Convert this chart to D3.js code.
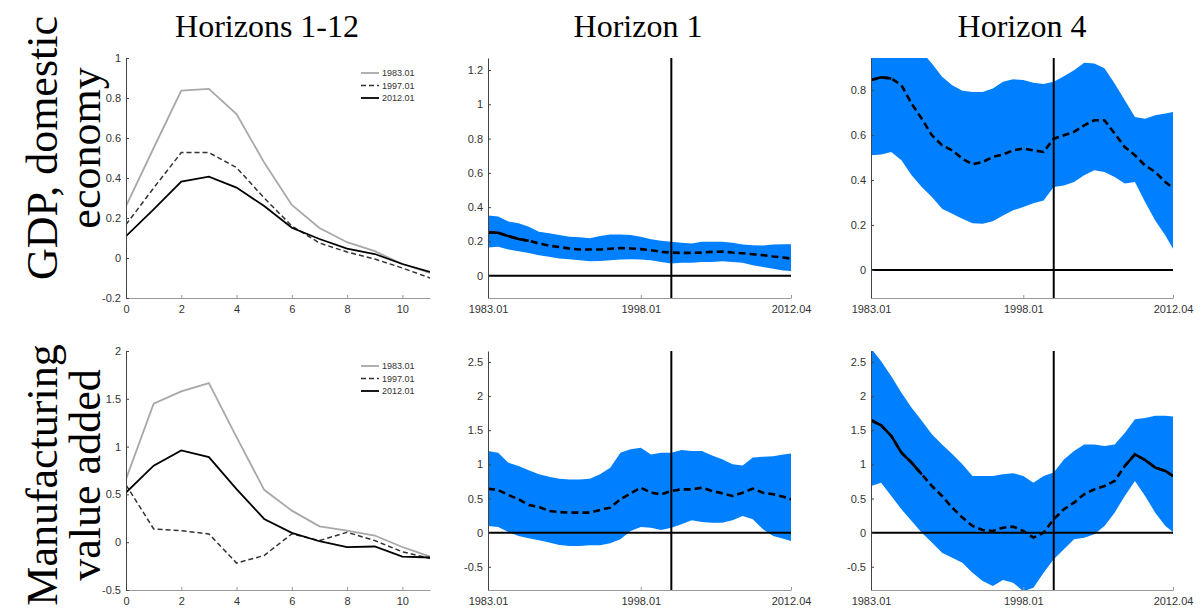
<!DOCTYPE html>
<html>
<head>
<meta charset="utf-8">
<script src="https://cdn.jsdelivr.net/npm/d3@7"></script>
<style>
  body { margin: 0; background: #fff; }
  svg { display: block; }
  .tick text { font-family: "Liberation Sans", Arial, sans-serif; font-size: 11px; fill: #333; }
</style>
</head>
<body>
<svg id="chart"></svg>
<script>
var width = 1203, height = 612

// ---- data ----
var horizons = d3.range(12)
var legendLabels = ["1983.01", "1997.01", "2012.01"]

var gdpIrf1983 = [0.26, 0.55, 0.837, 0.846, 0.72, 0.477, 0.265, 0.15, 0.079, 0.034, -0.03, -0.075]
var gdpIrf1997 = [0.167, 0.35, 0.527, 0.527, 0.452, 0.30, 0.16, 0.075, 0.03, -0.005, -0.05, -0.10]
var gdpIrf2012 = [0.109, 0.243, 0.382, 0.407, 0.352, 0.26, 0.151, 0.095, 0.047, 0.02, -0.03, -0.07]

var mfgIrf1983 = [0.66, 1.449, 1.577, 1.664, 1.10, 0.548, 0.33, 0.166, 0.12, 0.07, -0.05, -0.15]
var mfgIrf1997 = [0.60, 0.139, 0.12, 0.087, -0.218, -0.139, 0.087, 0.017, 0.104, 0.017, -0.10, -0.17]
var mfgIrf2012 = [0.52, 0.80, 0.96, 0.89, 0.555, 0.243, 0.097, 0.01, -0.052, -0.045, -0.15, -0.16]

var dates = ["1983.01", "1984.01", "1985.01", "1986.01", "1987.01", "1988.01", "1989.01", "1990.01",
  "1991.01", "1992.01", "1993.01", "1994.01", "1995.01", "1996.01", "1997.01", "1998.01", "1999.01",
  "2000.01", "2001.01", "2002.01", "2003.01", "2004.01", "2005.01", "2006.01", "2007.01", "2008.01",
  "2009.01", "2010.01", "2011.01", "2012.01", "2012.04"]
var dateTicks = ["1983.01", "1998.01", "2012.04"]
var breakDate = "2001.01"

var gdpH1Upper = [0.351, 0.345, 0.316, 0.306, 0.286, 0.257, 0.247, 0.237, 0.227, 0.224, 0.218, 0.231, 0.241,
  0.241, 0.237, 0.227, 0.212, 0.204, 0.198, 0.192, 0.188, 0.198, 0.198, 0.198, 0.192, 0.182, 0.178, 0.176,
  0.182, 0.184, 0.184]
var gdpH1Lower = [0.165, 0.169, 0.153, 0.143, 0.133, 0.12, 0.11, 0.10, 0.096, 0.09, 0.084, 0.086, 0.09,
  0.094, 0.096, 0.094, 0.09, 0.08, 0.071, 0.075, 0.076, 0.08, 0.08, 0.084, 0.08, 0.076, 0.061, 0.051,
  0.041, 0.031, 0.027]
var gdpH1Median = [0.253, 0.251, 0.231, 0.214, 0.204, 0.188, 0.175, 0.167, 0.159, 0.153, 0.153, 0.153, 0.157,
  0.161, 0.159, 0.155, 0.149, 0.139, 0.135, 0.133, 0.133, 0.135, 0.139, 0.141, 0.135, 0.131, 0.125, 0.12,
  0.112, 0.106, 0.10]
var gdpH1Solid = [["1983.01", "1987.01"]]

var gdpH4Upper = [1.08, 1.08, 1.06, 1.04, 1.01, 0.97, 0.919, 0.86, 0.822, 0.797, 0.792, 0.792, 0.807,
  0.837, 0.848, 0.845, 0.833, 0.827, 0.837, 0.862, 0.889, 0.922, 0.919, 0.897, 0.83, 0.755, 0.681, 0.673,
  0.688, 0.696, 0.703]
var gdpH4Lower = [0.51, 0.514, 0.525, 0.488, 0.421, 0.369, 0.324, 0.272, 0.25, 0.228, 0.208, 0.205, 0.217,
  0.242, 0.265, 0.28, 0.297, 0.309, 0.369, 0.376, 0.391, 0.421, 0.443, 0.436, 0.413, 0.384, 0.391, 0.302,
  0.22, 0.153, 0.094]
var gdpH4Median = [0.845, 0.857, 0.852, 0.822, 0.74, 0.673, 0.599, 0.555, 0.532, 0.495, 0.47, 0.48, 0.503,
  0.514, 0.532, 0.54, 0.532, 0.525, 0.584, 0.599, 0.614, 0.643, 0.666, 0.666, 0.607, 0.547, 0.51, 0.465,
  0.436, 0.391, 0.364]
var gdpH4Solid = [["1983.01", "1985.01"]]

var mfgH1Upper = [1.195, 1.17, 1.024, 0.976, 0.912, 0.854, 0.82, 0.79, 0.78, 0.78, 0.79, 0.854, 0.95,
  1.17, 1.22, 1.244, 1.146, 1.17, 1.17, 1.21, 1.195, 1.195, 1.13, 1.073, 1.0, 0.985, 1.1, 1.11,
  1.12, 1.146, 1.16]
var mfgH1Lower = [0.098, 0.083, 0.01, -0.05, -0.083, -0.112, -0.146, -0.18, -0.195, -0.195, -0.185, -0.185,
  -0.156, -0.098, 0.024, 0.083, 0.073, 0.039, 0.073, 0.122, 0.18, 0.156, 0.146, 0.146, 0.18, 0.244, 0.195,
  0.049, -0.049, -0.088, -0.122]
var mfgH1Median = [0.644, 0.624, 0.551, 0.488, 0.405, 0.376, 0.317, 0.302, 0.293, 0.293, 0.293, 0.332, 0.366,
  0.488, 0.576, 0.659, 0.585, 0.561, 0.61, 0.634, 0.634, 0.659, 0.61, 0.576, 0.537, 0.585, 0.644, 0.585,
  0.561, 0.527, 0.488]
var mfgH1Solid = []

var mfgH4Upper = [2.7, 2.51, 2.29, 2.05, 1.83, 1.64, 1.44, 1.29, 1.15, 1.0, 0.83, 0.83, 0.83, 0.854, 0.87,
  0.83, 0.732, 0.83, 0.88, 1.07, 1.195, 1.29, 1.29, 1.27, 1.29, 1.46, 1.66, 1.68, 1.71, 1.71, 1.70]
var mfgH4Lower = [0.683, 0.732, 0.537, 0.342, 0.171, 0.0, -0.146, -0.293, -0.366, -0.44, -0.586, -0.708,
  -0.78, -0.693, -0.732, -0.86, -0.806, -0.586, -0.39, -0.244, -0.098, -0.073, -0.024, 0.098, 0.293, 0.537,
  0.757, 0.537, 0.293, 0.098, 0.01]
var mfgH4Median = [1.646, 1.57, 1.416, 1.17, 1.025, 0.854, 0.683, 0.537, 0.366, 0.22, 0.098, 0.039, 0.024,
  0.073, 0.088, 0.024, -0.073, 0.0, 0.195, 0.342, 0.44, 0.561, 0.634, 0.683, 0.757, 0.976, 1.147, 1.064,
  0.952, 0.903, 0.83]
var mfgH4Solid = [["1983.01", "1988.01"], ["2008.01", "2012.04"]]

var colTitles = ["Horizons 1-12", "Horizon 1", "Horizon 4"]
var rowTitles = [["GDP, domestic", "economy"], ["Manufacturing", "value added"]]

// ---- layout ----
var colX = [[126, 430], [488, 791], [871, 1173]]
var rowY = [[58, 298], [351, 590]]
var bandColor = "#0080ff"

var svg = d3.select("#chart")
    .attr("width", width)
    .attr("height", height)
    .style("font-family", "Liberation Sans, Arial, sans-serif")

// quarterly index from "yyyy.qq"
function qIndex(s) {
    var p = s.split(".")
    return (+p[0] - 1983) * 4 + (+p[1] - 1)
}

function fmt(d) { return String(+d.toFixed(2)) }

function styleAxis(g, color) {
    g.select(".domain").attr("stroke", color).attr("stroke-width", 1)
    g.selectAll(".tick line").attr("stroke", color)
}

var clipId = 0
function panel(col, row, yDomain, yTicks) {
    var x0 = colX[col][0], x1 = colX[col][1]
    var y0 = rowY[row][0], y1 = rowY[row][1]
    var g = svg.append("g")
    var y = d3.scaleLinear().domain(yDomain).range([y1, y0])
    var id = "clip" + (clipId++)
    svg.append("clipPath").attr("id", id)
        .append("rect").attr("x", x0).attr("y", y0).attr("width", x1 - x0).attr("height", y1 - y0)
    var plot = g.append("g").attr("clip-path", "url(#" + id + ")")
    return {g: g, plot: plot, y: y, x0: x0, x1: x1, y0: y0, y1: y1}
}

function irfPanel(row, yDomain, yTicks, s1983, s1997, s2012) {
    var p = panel(0, row, yDomain, yTicks)
    var x = d3.scaleLinear().domain([0, 11]).range([p.x0, p.x1])
    var line = d3.line().x(function(d, i) { return x(horizons[i]) }).y(function(d) { return p.y(d) })
    var series = [
        {v: s1983, color: "#a8a8a8", dash: null, w: 1.8},
        {v: s1997, color: "#333", dash: "5,3", w: 1.5},
        {v: s2012, color: "#000", dash: null, w: 1.8}
    ]
    series.forEach(function(s) {
        p.plot.append("path").datum(s.v)
            .attr("d", line).attr("fill", "none")
            .attr("stroke", s.color).attr("stroke-width", s.w)
            .attr("stroke-dasharray", s.dash)
    })
    p.g.append("g").attr("transform", "translate(0," + p.y1 + ")")
        .call(d3.axisBottom(x).tickValues(d3.range(0, 11, 2)).tickSizeInner(-3).tickSizeOuter(0).tickPadding(7))
        .call(styleAxis, "#999")
    p.g.append("g").attr("transform", "translate(" + p.x0 + ",0)")
        .call(d3.axisLeft(p.y).tickValues(yTicks).tickFormat(fmt).tickSizeInner(-3).tickSizeOuter(0).tickPadding(5))
        .call(styleAxis, "#444")

    // legend
    var lg = p.g.append("g").attr("transform", "translate(361," + (p.y0 + 15) + ")")
    series.forEach(function(s, i) {
        lg.append("line").attr("x1", 0).attr("x2", 18).attr("y1", i * 12.5).attr("y2", i * 12.5)
            .attr("stroke", s.color).attr("stroke-width", s.w).attr("stroke-dasharray", s.dash)
        lg.append("text").attr("x", 21).attr("y", i * 12.5).attr("dy", "0.35em")
            .style("font-size", "9px").attr("fill", "#333").text(legendLabels[i])
    })
}

function bandPanel(col, row, yDomain, yTicks, upper, lower, median, solid) {
    var p = panel(col, row, yDomain, yTicks)
    var x = d3.scaleLinear().domain([0, qIndex("2012.04")]).range([p.x0, p.x1])
    var pts = dates.map(function(d, i) {
        return {q: qIndex(d), up: upper[i], lo: lower[i], med: median[i]}
    })
    p.plot.append("path").datum(pts)
        .attr("d", d3.area().x(function(d) { return x(d.q) })
            .y0(function(d) { return p.y(d.lo) }).y1(function(d) { return p.y(d.up) }))
        .attr("fill", bandColor)

    var medLine = d3.line().x(function(d) { return x(d.q) }).y(function(d) { return p.y(d.med) })
    p.plot.append("path").datum(pts).attr("d", medLine)
        .attr("fill", "none").attr("stroke", "#000").attr("stroke-width", 2.6)
        .attr("stroke-dasharray", "7,4")
    solid.forEach(function(seg) {
        var a = qIndex(seg[0]), b = qIndex(seg[1])
        p.plot.append("path").datum(pts.filter(function(d) { return d.q >= a && d.q <= b }))
            .attr("d", medLine).attr("fill", "none").attr("stroke", "#000").attr("stroke-width", 2.6)
    })

    // zero line and break line
    p.g.append("line").attr("x1", x(0)).attr("x2", x(qIndex("2012.04")))
        .attr("y1", p.y(0)).attr("y2", p.y(0)).attr("stroke", "#000").attr("stroke-width", 2)
    p.g.append("line").attr("x1", x(qIndex(breakDate))).attr("x2", x(qIndex(breakDate)))
        .attr("y1", p.y0).attr("y2", p.y1).attr("stroke", "#000").attr("stroke-width", 2)

    p.g.append("g").attr("transform", "translate(0," + p.y1 + ")")
        .call(d3.axisBottom(x).tickValues(dateTicks.map(qIndex))
            .tickFormat(function(d, i) { return dateTicks[i] })
            .tickSizeInner(-3).tickSizeOuter(0).tickPadding(7))
        .call(styleAxis, "#999")
    p.g.append("g").attr("transform", "translate(" + p.x0 + ",0)")
        .call(d3.axisLeft(p.y).tickValues(yTicks).tickFormat(fmt).tickSizeInner(-3).tickSizeOuter(0).tickPadding(5))
        .call(styleAxis, "#444")
}

irfPanel(0, [-0.2, 1], [-0.2, 0, 0.2, 0.4, 0.6, 0.8, 1], gdpIrf1983, gdpIrf1997, gdpIrf2012)
irfPanel(1, [-0.5, 2], [-0.5, 0, 0.5, 1, 1.5, 2], mfgIrf1983, mfgIrf1997, mfgIrf2012)
bandPanel(1, 0, [-0.13, 1.27], [0, 0.2, 0.4, 0.6, 0.8, 1, 1.2], gdpH1Upper, gdpH1Lower, gdpH1Median, gdpH1Solid)
bandPanel(2, 0, [-0.125, 0.943], [0, 0.2, 0.4, 0.6, 0.8], gdpH4Upper, gdpH4Lower, gdpH4Median, gdpH4Solid)
bandPanel(1, 1, [-0.84, 2.66], [-0.5, 0, 0.5, 1, 1.5, 2, 2.5], mfgH1Upper, mfgH1Lower, mfgH1Median, mfgH1Solid)
bandPanel(2, 1, [-0.84, 2.66], [-0.5, 0, 0.5, 1, 1.5, 2, 2.5], mfgH4Upper, mfgH4Lower, mfgH4Median, mfgH4Solid)

// titles
var titleX = [267, 638, 1022]
colTitles.forEach(function(t, i) {
    svg.append("text").attr("x", titleX[i]).attr("y", 37).attr("text-anchor", "middle")
        .style("font-family", "Liberation Serif, serif").style("font-size", "32px").attr("fill", "#000")
        .text(t)
})
var rowCenter = [148, 475]
rowTitles.forEach(function(r, i) {
    [[57, r[0]], [100, r[1]]].forEach(function(d) {
        svg.append("text")
            .attr("transform", "translate(" + d[0] + "," + rowCenter[i] + ") rotate(-90)")
            .attr("text-anchor", "middle")
            .style("font-family", "Liberation Serif, serif").style("font-size", "44px").attr("fill", "#000")
            .text(d[1])
    })
})
</script>
</body>
</html>
